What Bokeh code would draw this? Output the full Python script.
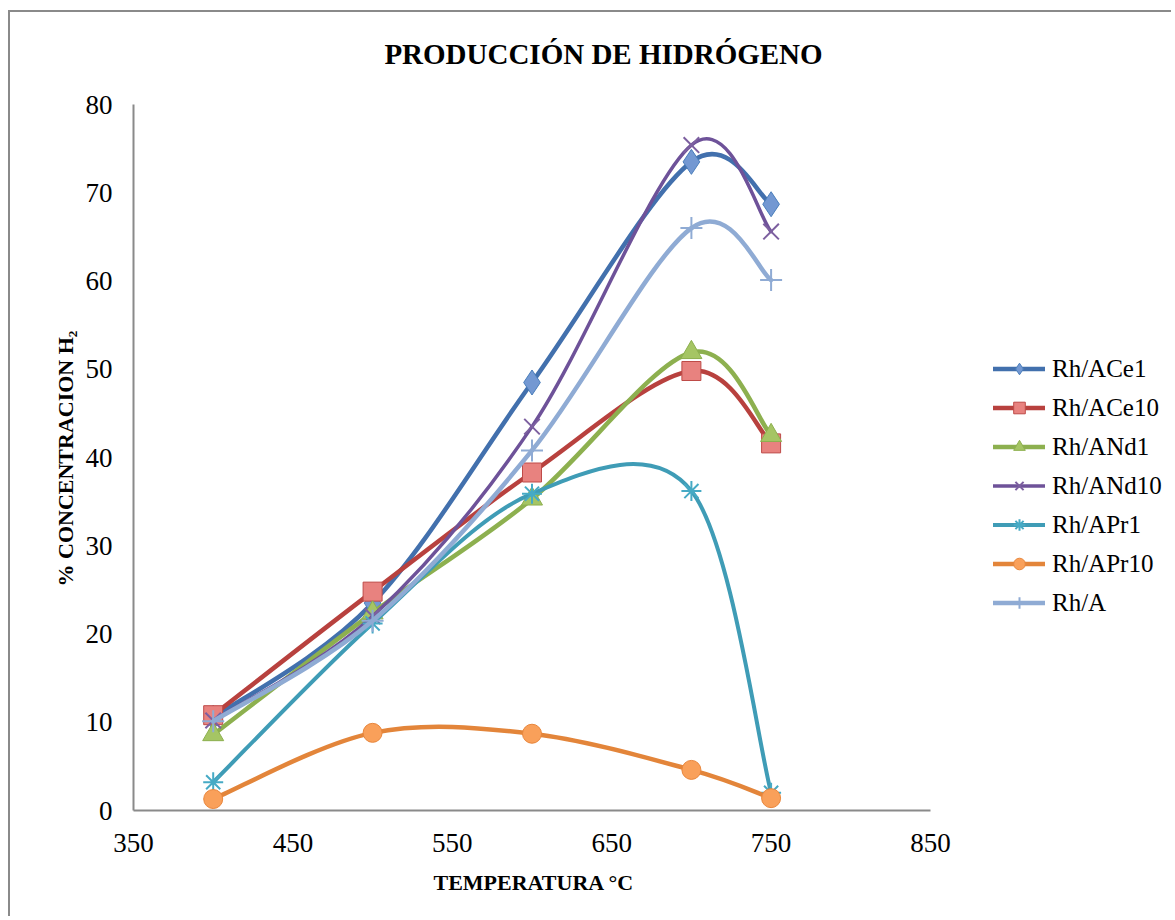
from bokeh.plotting import figure
from bokeh.models import Range1d, FixedTicker, Legend, LegendItem, ColumnDataSource, Label, Title
from bokeh.embed import file_html
from bokeh.resources import INLINE

# ---------------- data ----------------
temperatura = [400, 500, 600, 700, 750]
rh_ace1 = [10.5, 23.5, 48.5, 73.5, 68.7]
rh_ace10 = [10.8, 24.8, 38.3, 49.8, 41.6]
rh_and1 = [8.6, 22.4, 35.3, 51.9, 42.5]
rh_and10 = [10.2, 22.0, 43.5, 75.4, 65.6]
rh_apr1 = [3.2, 21.2, 35.9, 36.2, 2.0]
rh_apr10 = [1.3, 8.8, 8.7, 4.6, 1.4]
rh_a = [10.1, 21.5, 40.8, 66.0, 60.1]

series_names = ["Rh/ACe1", "Rh/ACe10", "Rh/ANd1", "Rh/ANd10", "Rh/APr1", "Rh/APr10", "Rh/A"]
series_values = [rh_ace1, rh_ace10, rh_and1, rh_and10, rh_apr1, rh_apr10, rh_a]
x_ticks = [350, 450, 550, 650, 750, 850]
y_ticks = [0, 10, 20, 30, 40, 50, 60, 70, 80]
x_min, x_max = 350, 850
y_min, y_max = 0, 80

# ---------------- layout (pixels) ----------------
W, H = 1163, 906
B_LEFT, B_RIGHT, B_TOP, B_BOTTOM = 123, 8, 18, 108
AXIS_W, AXIS_H = 797, 706          # pixel length of the drawn axes
FRAME_W = W - B_LEFT - B_RIGHT
FRAME_H = H - B_TOP - B_BOTTOM

# ---------------- styles ----------------
styles = [
    dict(line="#4270AD", marker="diamond", size=25, fill="#7398D2", mline="#4A7EBB", lw=4.5),
    dict(line="#B8413E", marker="square", size=19, fill="#E8827F", mline="#BE4B48", lw=4.5),
    dict(line="#8DB04F", marker="triangle", size=21, fill="#A5C564", mline="#8DB04F", lw=4.5),
    dict(line="#6E5299", marker="x", size=22, fill="#7D60A0", mline="#7D60A0", lw=3.5),
    dict(line="#3F9CB6", marker="asterisk", size=20, fill="#46AAC5", mline="#46AAC5", lw=4),
    dict(line="#E3853A", marker="circle", size=19, fill="#F9A05A", mline="#E8863C", lw=4.5),
    dict(line="#8FABD4", marker="cross", size=22, fill="#95B3D7", mline="#8FABD4", lw=4.5),
]

FONT = "Liberation Serif"


def bezier_segments(xs, ys):
    n = len(xs)
    seg = dict(x0=[], y0=[], x1=[], y1=[], cx0=[], cy0=[], cx1=[], cy1=[])
    for i in range(n - 1):
        p0 = i - 1 if i > 0 else i
        p3 = i + 2 if i + 2 < n else i + 1
        seg["x0"].append(xs[i]); seg["y0"].append(ys[i])
        seg["x1"].append(xs[i + 1]); seg["y1"].append(ys[i + 1])
        seg["cx0"].append(xs[i] + (xs[i + 1] - xs[p0]) / 6.0)
        seg["cy0"].append(ys[i] + (ys[i + 1] - ys[p0]) / 6.0)
        seg["cx1"].append(xs[i + 1] - (xs[p3] - xs[i]) / 6.0)
        seg["cy1"].append(ys[i + 1] - (ys[p3] - ys[i]) / 6.0)
    return seg


x_end = x_min + (x_max - x_min) * FRAME_W / AXIS_W
y_end = y_min + (y_max - y_min) * FRAME_H / AXIS_H

p = figure(
    width=W, height=H,
    x_range=Range1d(x_min, x_end), y_range=Range1d(y_min, y_end),
    output_backend="svg", toolbar_location=None,
    min_border_left=B_LEFT, min_border_right=B_RIGHT, min_border_top=B_TOP, min_border_bottom=B_BOTTOM,
    styles={"border-left": "2px solid #8a8a8a", "border-top": "2px solid #8a8a8a",
            "margin-left": "8px", "margin-top": "10px"},
)
p.title.visible = False
p.outline_line_color = None
p.xgrid.visible = False
p.ygrid.visible = False
p.background_fill_color = "white"
p.border_fill_color = "white"

for ax, ticks, bnds in ((p.xaxis[0], x_ticks, (x_min, x_max)), (p.yaxis[0], y_ticks, (y_min, y_max))):
    ax.ticker = FixedTicker(ticks=ticks)
    ax.bounds = bnds
    ax.axis_line_color = "#8a8a8a"
    ax.axis_line_width = 2
    ax.major_tick_out = 0
    ax.major_tick_in = 0
    ax.minor_tick_out = 0
    ax.minor_tick_in = 0
    ax.major_label_text_font = FONT
    ax.major_label_text_font_size = "27px"
    ax.major_label_text_color = "black"

p.xaxis.major_label_standoff = 23
p.yaxis.major_label_standoff = 21

# axis titles (placed relative to the drawn axes, not the wider frame)
x_title = Title(text="TEMPERATURA °C", align="left", offset=300, standoff=26,
                text_font=FONT, text_font_style="bold", text_font_size="22px", text_color="black")
p.add_layout(x_title, "below")
y_title = Title(text="%  CONCENTRACION H₂", align="left", offset=224, standoff=10,
                text_font=FONT, text_font_style="bold", text_font_size="22px", text_color="black")
p.add_layout(y_title, "left")

items = []
for name, vals, st in zip(series_names, series_values, styles):
    src = ColumnDataSource(bezier_segments(temperatura, vals))
    br = p.bezier(x0="x0", y0="y0", x1="x1", y1="y1", cx0="cx0", cy0="cy0", cx1="cx1", cy1="cy1",
                  source=src, line_color=st["line"], line_width=st["lw"], line_cap="round")
    if st["marker"] in ("x", "asterisk", "cross"):
        sr = p.scatter(temperatura, vals, marker=st["marker"], size=st["size"],
                       line_color=st["mline"], line_width=2)
    else:
        sr = p.scatter(temperatura, vals, marker=st["marker"], size=st["size"],
                       fill_color=st["fill"], line_color=st["mline"], line_width=1)
    items.append(LegendItem(label=name, renderers=[br, sr]))

legend = Legend(
    items=items, location=(860, 193),
    border_line_color=None, background_fill_alpha=0,
    padding=0, margin=0,
    label_text_font=FONT, label_text_font_size="25px", label_text_color="black",
    glyph_width=52, glyph_height=29, label_height=29, spacing=10, label_standoff=7,
)
p.add_layout(legend)

title = Label(
    x=470, y=757, x_units="screen", y_units="screen",
    text="PRODUCCIÓN DE HIDRÓGENO", text_align="center", text_baseline="middle",
    text_font=FONT, text_font_style="bold", text_font_size="29px", text_color="black",
)
p.add_layout(title)

open("out.html", "w").write(file_html(p, INLINE))
